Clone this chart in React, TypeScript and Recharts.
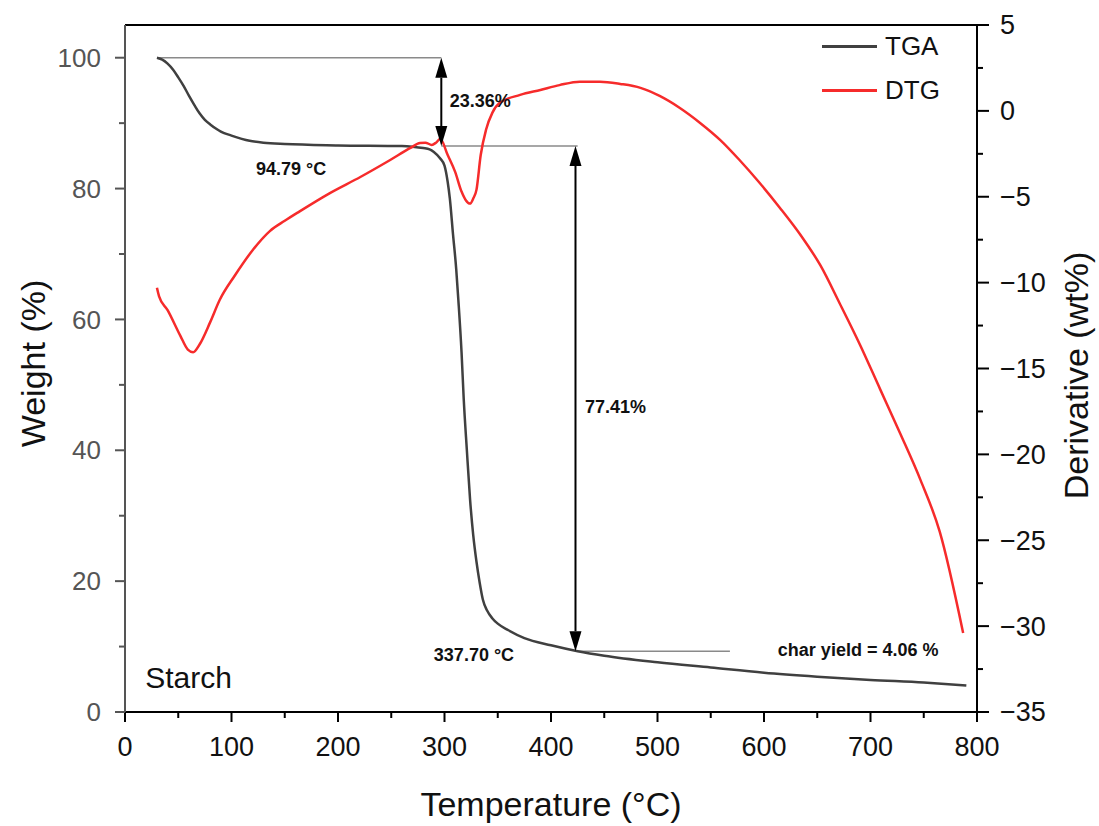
import {
  ComposedChart,
  Line,
  XAxis,
  YAxis,
  ReferenceLine,
  ReferenceDot,
  Label,
} from "recharts"

const FONT = '"Liberation Sans", Arial, sans-serif'
const TGA_COLOR = "#404040"
const DTG_COLOR = "#f62b2b"
const GUIDE_COLOR = "#8a8a8a"

// TGA: weight (%) vs temperature (°C)
const TGA_T = [
  30, 35, 40, 45, 50, 55, 60, 65, 70, 75, 80, 86, 90, 100, 117, 130, 150, 200, 260, 270, 280, 286, 290, 296,
  300, 303, 305, 308, 311, 313, 316, 318, 321, 324, 327, 330, 333, 336, 340, 345, 350, 360, 375, 400, 425, 450,
  500, 550, 600, 650, 700, 750, 790,
]
const TGA_W = [
  100, 99.7, 99.1, 98.2, 97.0, 95.7, 94.2, 92.8, 91.5, 90.5, 89.8, 89.1, 88.7, 88.1, 87.3, 87.0, 86.8, 86.6, 86.5,
  86.4, 86.2, 86.0, 85.6, 84.6, 83.5, 81.0, 78.5, 73.0, 67.7, 63.0, 55.0, 48.0, 40.0, 32.5, 27.0, 23.0, 19.8, 17.2,
  15.5, 14.3, 13.5, 12.5, 11.3, 10.2, 9.3, 8.6, 7.6, 6.8, 6.0, 5.4, 4.9, 4.5, 4.06,
]

// DTG: derivative (wt%) vs temperature (°C)
const DTG_T = [
  30, 32, 40, 52, 59, 64, 70, 80, 89, 103, 120, 136, 150, 164, 192, 221, 249, 268, 277, 282, 288, 292, 296, 303,
  310, 316, 320, 324, 327, 330, 334, 339, 345, 352, 371, 390, 408, 427, 446, 465, 484, 502, 521, 540, 559, 577,
  596, 615, 634, 653, 671, 690, 709, 728, 747, 765, 787,
]
const DTG_V = [
  -10.3, -10.8, -11.6, -13.1, -13.9, -14.05, -13.6, -12.3, -11.0, -9.6, -8.1, -7.0, -6.4, -5.85, -4.8, -3.85,
  -2.86, -2.16, -1.87, -1.85, -1.98, -1.85, -1.63, -2.57, -3.55, -4.7, -5.2, -5.4, -5.1, -4.6, -2.57, -1.1, -0.1,
  0.47, 0.93, 1.22, 1.5, 1.7, 1.7, 1.57, 1.34, 0.87, 0.17, -0.7, -1.7, -2.86, -4.2, -5.65, -7.2, -9.0, -11.2,
  -13.6, -16.2, -18.8, -21.5, -24.5, -30.4,
]

const X_TICKS = [0, 50, 100, 150, 200, 250, 300, 350, 400, 450, 500, 550, 600, 650, 700, 750, 800]
const LEFT_TICKS = [0, 10, 20, 30, 40, 50, 60, 70, 80, 90, 100]
const RIGHT_TICKS = [-35, -32.5, -30, -27.5, -25, -22.5, -20, -17.5, -15, -12.5, -10, -7.5, -5, -2.5, 0, 2.5, 5]

const LEGEND = [
  { name: "TGA", color: TGA_COLOR },
  { name: "DTG", color: DTG_COLOR },
]

// annotation guides (temperature, weight)
const STEP1_T = 297
const STEP2_T = 423
const START_W = 100
const PLATEAU_W = 86.5
const CHAR_W = 9.3

const NOTES = [
  { t: 305, w: 93.4, text: "23.36%" },
  { t: 123, w: 83.0, text: "94.79 °C" },
  { t: 432, w: 46.7, text: "77.41%" },
  { t: 290, w: 8.7, text: "337.70 °C" },
  { t: 613, w: 9.5, text: "char yield = 4.06 %" },
]

const tgaData = TGA_T.map((T, i) => ({ T, w: TGA_W[i] }))
const dtgData = DTG_T.map((T, i) => ({ T, d: DTG_V[i] }))

const fmt = (v: number) => (v < 0 ? `\u2212${Math.abs(v)}` : `${v}`)

function XTick(props: any) {
  const { x, y, payload } = props
  const major = payload.value % 100 === 0
  return (
    <g>
      <line x1={x} x2={x} y1={y} y2={y + (major ? 10 : 6)} stroke="#000" strokeWidth={2} />
      {major && (
        <text x={x} y={y + 44} textAnchor="middle" fontSize={27} fontFamily={FONT} fill="#111">
          {payload.value}
        </text>
      )}
    </g>
  )
}

function LeftTick(props: any) {
  const { x, y, payload } = props
  const major = payload.value % 20 === 0
  return (
    <g>
      <line x1={x} x2={x - (major ? 10 : 6)} y1={y} y2={y} stroke="#555" strokeWidth={2} />
      {major && (
        <text x={x - 24} y={y} dy="0.35em" textAnchor="end" fontSize={26} fontFamily={FONT} fill="#555">
          {payload.value}
        </text>
      )}
    </g>
  )
}

function RightTick(props: any) {
  const { x, y, payload } = props
  const major = payload.value % 5 === 0
  return (
    <g>
      <line x1={x} x2={x + (major ? 12 : 6)} y1={y} y2={y} stroke="#000" strokeWidth={2} />
      {major && (
        <text x={x + 23} y={y} dy="0.35em" textAnchor="start" fontSize={27} fontFamily={FONT} fill="#111">
          {fmt(payload.value)}
        </text>
      )}
    </g>
  )
}

const arrowShape = (props: any) => {
  const { x1, y1, x2, y2 } = props
  const top = Math.min(y1, y2)
  const bot = Math.max(y1, y2)
  const head = 20
  const hw = 6
  return (
    <g>
      <line x1={x1} x2={x2} y1={top + head} y2={bot - head} stroke="#000" strokeWidth={2} />
      <polygon points={`${x1},${top} ${x1 - hw},${top + head} ${x1 + hw},${top + head}`} fill="#000" />
      <polygon points={`${x1},${bot} ${x1 - hw},${bot - head} ${x1 + hw},${bot - head}`} fill="#000" />
    </g>
  )
}

const noteShape = (text: string) => (props: any) => (
  <text
    x={props.cx}
    y={props.cy}
    dy="0.35em"
    textAnchor="start"
    fontSize={18}
    fontWeight="bold"
    fontFamily={FONT}
    fill="#111"
  >
    {text}
  </text>
)

const starchShape = (props: any) => (
  <text x={props.cx} y={props.cy} dy="0.35em" fontSize={30} fontFamily={FONT} fill="#111">
    Starch
  </text>
)

const xTitle = (props: any) => {
  const vb = props.viewBox
  return (
    <text x={vb.x + vb.width / 2} y={vb.y + 104} textAnchor="middle" fontSize={34} fontFamily={FONT} fill="#111">
      Temperature (°C)
    </text>
  )
}

const leftTitle = (props: any) => {
  const vb = props.viewBox
  const cx = 33
  const cy = vb.y + vb.height / 2 - 5
  return (
    <text
      x={cx}
      y={cy}
      dy="0.35em"
      textAnchor="middle"
      transform={`rotate(-90, ${cx}, ${cy})`}
      fontSize={34}
      fontFamily={FONT}
      fill="#111"
    >
      Weight (%)
    </text>
  )
}

const rightTitle = (props: any) => {
  const vb = props.viewBox
  const cx = 1076
  const cy = vb.y + vb.height / 2 + 7
  return (
    <text
      x={cx}
      y={cy}
      dy="0.35em"
      textAnchor="middle"
      transform={`rotate(-90, ${cx}, ${cy})`}
      fontSize={34}
      fontFamily={FONT}
      fill="#111"
    >
      Derivative (wt%)
    </text>
  )
}

function LegendBox() {
  return (
    <div style={{ position: "absolute", left: 822, top: 24, fontFamily: FONT }}>
      {LEGEND.map((item) => (
        <div key={item.name} style={{ display: "flex", alignItems: "center", height: 44 }}>
          <span style={{ display: "inline-block", width: 55, height: 3, background: item.color }} />
          <span style={{ marginLeft: 8, fontSize: 26, color: "#111" }}>{item.name}</span>
        </div>
      ))}
    </div>
  )
}

export default function App() {
  return (
    <div style={{ position: "absolute", left: 0, top: 0, width: 1099, height: 826, background: "#fff" }}>
      <ComposedChart width={1099} height={826} margin={{ top: 25, right: 0, bottom: 0, left: 0 }}>
        <XAxis
          type="number"
          dataKey="T"
          domain={[0, 800]}
          ticks={X_TICKS}
          interval={0}
          height={114}
          tickSize={0}
          tickMargin={0}
          tickLine={false}
          axisLine={{ stroke: "#000", strokeWidth: 2 }}
          tick={<XTick />}
        >
          <Label content={xTitle} />
        </XAxis>
        <YAxis
          yAxisId="left"
          orientation="left"
          type="number"
          domain={[0, 105]}
          ticks={LEFT_TICKS}
          interval={0}
          width={125}
          tickSize={0}
          tickMargin={0}
          tickLine={false}
          axisLine={{ stroke: "#555", strokeWidth: 2 }}
          tick={<LeftTick />}
        >
          <Label content={leftTitle} />
        </YAxis>
        <YAxis
          yAxisId="right"
          orientation="right"
          type="number"
          domain={[-35, 5]}
          ticks={RIGHT_TICKS}
          interval={0}
          width={122}
          tickSize={0}
          tickMargin={0}
          tickLine={false}
          axisLine={{ stroke: "#000", strokeWidth: 2 }}
          tick={<RightTick />}
        >
          <Label content={rightTitle} />
        </YAxis>

        <ReferenceLine yAxisId="left" y={105} stroke="#000" strokeWidth={2} />

        <ReferenceLine
          yAxisId="left"
          segment={[
            { x: 30, y: START_W },
            { x: STEP1_T, y: START_W },
          ]}
          stroke={GUIDE_COLOR}
          strokeWidth={1.5}
        />
        <ReferenceLine
          yAxisId="left"
          segment={[
            { x: STEP1_T, y: PLATEAU_W },
            { x: 425, y: PLATEAU_W },
          ]}
          stroke={GUIDE_COLOR}
          strokeWidth={1.5}
        />
        <ReferenceLine
          yAxisId="left"
          segment={[
            { x: STEP2_T, y: CHAR_W },
            { x: 568, y: CHAR_W },
          ]}
          stroke={GUIDE_COLOR}
          strokeWidth={1.5}
        />

        <Line
          yAxisId="left"
          data={tgaData}
          dataKey="w"
          name="TGA"
          type="monotone"
          stroke={TGA_COLOR}
          strokeWidth={2.5}
          dot={false}
          activeDot={false}
          isAnimationActive={false}
        />
        <Line
          yAxisId="right"
          data={dtgData}
          dataKey="d"
          name="DTG"
          type="monotone"
          stroke={DTG_COLOR}
          strokeWidth={2.5}
          dot={false}
          activeDot={false}
          isAnimationActive={false}
        />

        <ReferenceLine
          yAxisId="left"
          segment={[
            { x: STEP1_T, y: START_W },
            { x: STEP1_T, y: PLATEAU_W },
          ]}
          shape={arrowShape}
        />
        <ReferenceLine
          yAxisId="left"
          segment={[
            { x: STEP2_T, y: PLATEAU_W },
            { x: STEP2_T, y: CHAR_W },
          ]}
          shape={arrowShape}
        />

        {NOTES.map((n) => (
          <ReferenceDot key={n.text} yAxisId="left" x={n.t} y={n.w} r={0} shape={noteShape(n.text)} />
        ))}
        <ReferenceDot yAxisId="left" x={19} y={5.2} r={0} shape={starchShape} />
      </ComposedChart>
      <LegendBox />
    </div>
  )
}
